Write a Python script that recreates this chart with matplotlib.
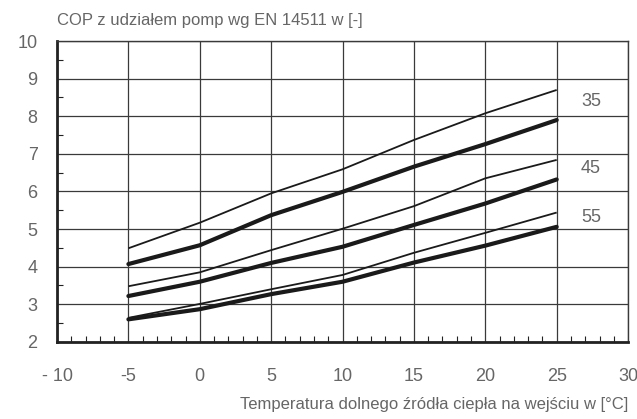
import matplotlib
matplotlib.use("Agg")
import matplotlib.pyplot as plt
from matplotlib.ticker import MultipleLocator

plt.rcParams["font.family"] = ["Liberation Sans", "DejaVu Sans"]

# temperatura dolnego zrodla [C]
temp = [-5, 0, 5, 10, 15, 20, 25]

# COP, cienkie i grube linie dla temperatur zasilania 35/45/55
cop_35_thin = [4.49, 5.17, 5.95, 6.59, 7.37, 8.08, 8.70]
cop_35_thick = [4.07, 4.57, 5.37, 5.99, 6.66, 7.26, 7.90]
cop_45_thin = [3.48, 3.85, 4.44, 5.01, 5.61, 6.35, 6.84]
cop_45_thick = [3.22, 3.60, 4.10, 4.53, 5.11, 5.68, 6.32]
cop_55_thin = [2.64, 3.01, 3.40, 3.78, 4.37, 4.90, 5.44]
cop_55_thick = [2.60, 2.87, 3.27, 3.60, 4.11, 4.56, 5.06]

curve_labels = ["35", "45", "55"]
label_y = [8.4, 6.62, 5.3]

x_ticks = [-10, -5, 0, 5, 10, 15, 20, 25, 30]
x_tick_labels = ["- 10", "-5", "0", "5", "10", "15", "20", "25", "30"]
y_ticks = [2, 3, 4, 5, 6, 7, 8, 9, 10]

grey = "#666666"

fig = plt.figure(figsize=(6.37, 4.19), dpi=100)
ax = fig.add_axes([0.0895, 0.184, 0.8965, 0.718])

for thin, thick in [(cop_35_thin, cop_35_thick),
                    (cop_45_thin, cop_45_thick),
                    (cop_55_thin, cop_55_thick)]:
    ax.plot(temp, thin, color="#1a1a1a", lw=1.3, solid_capstyle="butt",
            solid_joinstyle="round")
    ax.plot(temp, thick, color="#1a1a1a", lw=3.0, solid_capstyle="round",
            solid_joinstyle="round")

for lab, yy in zip(curve_labels, label_y):
    ax.text(27.4, yy, lab, fontsize=13, color=grey, ha="center", va="center")

ax.set_xlim(-10, 30)
ax.set_ylim(2, 10)
ax.set_xticks(x_ticks)
ax.set_xticklabels(x_tick_labels)
ax.set_yticks(y_ticks)
ax.xaxis.set_minor_locator(MultipleLocator(1))
ax.yaxis.set_minor_locator(MultipleLocator(0.5))
ax.grid(True, which="major", color="#3a3a3a", lw=0.9)
ax.tick_params(which="major", length=0, labelsize=13, labelcolor=grey)
ax.tick_params(axis="x", which="major", pad=19)
ax.tick_params(axis="y", which="major", pad=14)
ax.tick_params(which="minor", direction="in", length=4, width=0.8, color="#222222")
ax.tick_params(axis="x", which="minor", top=False)
ax.tick_params(axis="y", which="minor", right=False)

for side in ["left", "bottom"]:
    ax.spines[side].set_linewidth(2.0)
    ax.spines[side].set_color("#222222")
for side in ["top", "right"]:
    ax.spines[side].set_linewidth(1.0)
    ax.spines[side].set_color("#3a3a3a")

fig.text(57 / 637, 1 - 20 / 419, "COP z udziałem pomp wg EN 14511 w [-]",
         fontsize=12, color=grey, ha="left", va="center")
fig.text(628 / 637, 1 - 404 / 419, "Temperatura dolnego źródła ciepła na wejściu w [°C]",
         fontsize=12, color=grey, ha="right", va="center")

fig.savefig("out.png", dpi=100)
